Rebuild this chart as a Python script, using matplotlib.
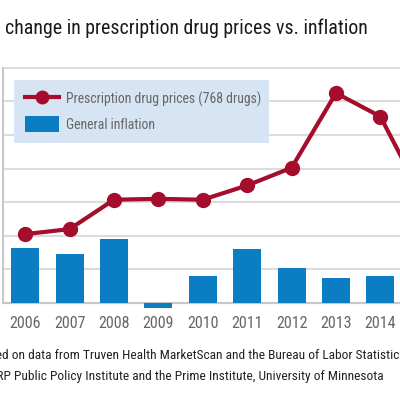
import matplotlib.pyplot as plt
from matplotlib.lines import Line2D
from matplotlib.patches import Patch

plt.rcParams['font.family'] = ['Roboto Condensed', 'DejaVu Sans']

years = [2006, 2007, 2008, 2009, 2010, 2011, 2012, 2013, 2014, 2015]
drug_prices = [4.1, 4.4, 6.15, 6.2, 6.15, 7.0, 8.05, 12.5, 11.1, 6.0]
inflation = [3.3, 2.9, 3.8, -0.3, 1.6, 3.2, 2.1, 1.5, 1.6, 0.1]

red = '#a50d2c'
blue = '#0a7dc3'

fig = plt.figure(figsize=(4, 4), dpi=100)
ax = fig.add_axes([0.0075, 0.2215, 1.11, 0.611])

ax.bar(years, inflation, width=0.63, color=blue, zorder=3)
ax.plot(years, drug_prices, color=red, linewidth=3, marker='o', markersize=10, zorder=4)
ax.axhline(0, color='#c8c8c8', linewidth=1.5, zorder=2)

ax.set_xlim(2005.5, 2015.5)
ax.set_ylim(-0.5, 14.05)
ax.set_yticks(range(0, 15, 2))
ax.set_yticklabels([])
ax.yaxis.grid(True, color='#dcdcdc', linewidth=1.5, zorder=0)
ax.set_axisbelow(True)
ax.tick_params(axis='y', length=0)
ax.set_xticks(years)
ax.set_xticklabels([str(y) for y in years])
ax.tick_params(axis='x', length=0, pad=3, labelsize=11.5, labelcolor='#666666')

for s in ['top', 'right', 'bottom']:
    ax.spines[s].set_visible(False)
ax.spines['left'].set_color('#c8c8c8')
ax.spines['left'].set_linewidth(1.5)
ax.spines['left'].set_bounds(0, 14)

handles = [Line2D([], [], color=red, linewidth=3, marker='o', markersize=9),
           Patch(facecolor=blue)]
leg = ax.legend(handles, ['Prescription drug prices (768 drugs)', 'General inflation'],
                loc='upper left', bbox_to_anchor=(0.0248, 0.947, 0.574, 0.0), mode='expand',
                borderaxespad=0, frameon=True, fancybox=False, facecolor='#d6e4f3',
                edgecolor='none', framealpha=1, fontsize=9.9, labelcolor='#666666',
                handlelength=2.5, handleheight=1.4, borderpad=0.8, labelspacing=0.68,
                handletextpad=0.45)

fig.text(0.012, 0.93, 'change in prescription drug prices vs. inflation',
         fontsize=14.3, color='#1a1a1a', va='center', ha='left')
fig.text(1.015, 0.112, 'Based on data from Truven Health MarketScan and the Bureau of Labor Statistics',
         fontsize=9.65, color='#222222', va='center', ha='right')
fig.text(0.958, 0.058, 'Source: AARP Public Policy Institute and the Prime Institute, University of Minnesota',
         fontsize=9.65, color='#222222', va='center', ha='right')

fig.savefig('out.png', dpi=100)
